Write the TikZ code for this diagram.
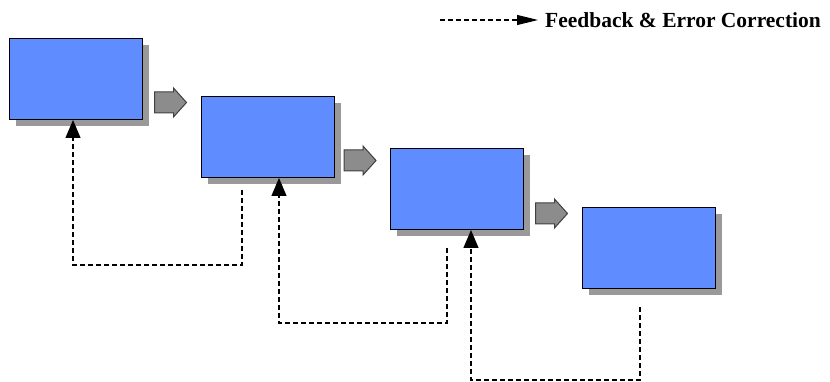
\documentclass[tikz,border=0pt]{standalone}
\usepackage{fontspec}
\setmainfont{Liberation Serif}
\usetikzlibrary{arrows.meta,calc}
\definecolor{boxblue}{HTML}{5F8CFF}
\definecolor{shadowgray}{HTML}{999999}
\definecolor{arrowgray}{HTML}{8C8C8C}
\tikzset{
  stagebox/.style={draw=black, line width=1pt, fill=boxblue, minimum width=133pt, minimum height=81pt, inner sep=0pt, anchor=north west},
  shadowbox/.style={fill=shadowgray, draw=none, minimum width=133pt, minimum height=81pt, inner sep=0pt, anchor=north west},
  flowarrow/.style={draw=black!75, line width=1pt, fill=arrowgray, line join=miter},
  feedback/.style={dash pattern=on 5pt off 3pt, line width=1.1pt, black},
  fbtip/.style={-{Triangle[length=18pt,width=15pt]}}
}
\newcommand{\blockarrow}[1]{%
  \draw[flowarrow] ($(#1)+(-16,-10.5)$) -- ($(#1)+(3,-10.5)$) -- ($(#1)+(3,-14.5)$) -- ($(#1)+(16,0)$) -- ($(#1)+(3,14.5)$) -- ($(#1)+(3,10.5)$) -- ($(#1)+(-16,10.5)$) -- cycle;}
\begin{document}
\begin{tikzpicture}[x=1pt,y=-1pt]
\useasboundingbox (0,0) rectangle (830,382);
% shadows
\node[shadowbox] (s1) at (16,45) {};
\node[shadowbox] (s2) at (208,103) {};
\node[shadowbox] (s3) at (397,155) {};
\node[shadowbox] (s4) at (589,214) {};
% boxes
\node[stagebox] (b1) at (9,38) {};
\node[stagebox] (b2) at (201,96) {};
\node[stagebox] (b3) at (390,148) {};
\node[stagebox] (b4) at (582,207) {};
% block arrows
\coordinate (a1) at (170.5,102.5);
\coordinate (a2) at (360,160.5);
\coordinate (a3) at (551.5,213.5);
\blockarrow{a1}
\blockarrow{a2}
\blockarrow{a3}
% feedback paths
\coordinate (f1s) at (242,190);
\coordinate (f1a) at (242,265);
\coordinate (f1b) at (73,265);
\coordinate (f1e) at (73,120);
\coordinate (f2s) at (447,248);
\coordinate (f2a) at (447,323);
\coordinate (f2b) at (279,323);
\coordinate (f2e) at (279,178);
\coordinate (f3s) at (640,307);
\coordinate (f3a) at (640,380);
\coordinate (f3b) at (471,380);
\coordinate (f3e) at (471,230);
\draw[feedback, fbtip] (f1s) -- (f1a) -- (f1b) -- (f1e);
\draw[feedback, fbtip] (f2s) -- (f2a) -- (f2b) -- (f2e);
\draw[feedback, fbtip] (f3s) -- (f3a) -- (f3b) -- (f3e);
% legend
\coordinate (ls) at (440,20);
\coordinate (le) at (538,20);
\node[anchor=west, inner sep=0pt, font=\fontsize{21.5pt}{24pt}\selectfont\bfseries] (lt) at (545,20) {Feedback \& Error Correction};
\draw[feedback, -{Triangle[length=21pt,width=10pt]}] (ls) -- (le);
\end{tikzpicture}
\end{document}
